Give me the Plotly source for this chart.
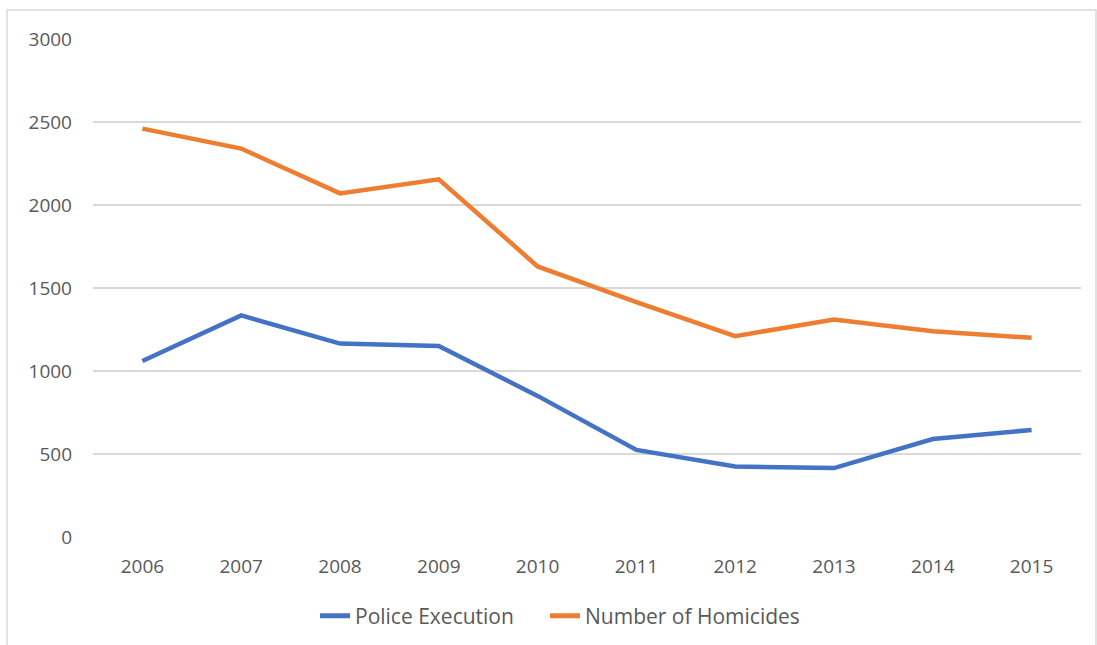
import plotly.graph_objects as go

years = ["2006", "2007", "2008", "2009", "2010", "2011", "2012", "2013", "2014", "2015"]
police_execution = [1060, 1335, 1165, 1150, 850, 525, 425, 415, 590, 645]
homicides = [2460, 2340, 2070, 2155, 1630, 1415, 1210, 1310, 1240, 1200]
y_ticks = [0, 500, 1000, 1500, 2000, 2500, 3000]

W, H = 1097, 645
L, R, T, B = 93, 16, 39, 108
pw, ph = W - L - R, H - T - B

def px(x):
    return (x - L) / pw

def py(y):
    return (H - B - y) / ph

fig = go.Figure()
fig.add_trace(go.Scatter(x=years, y=police_execution, mode="lines", name="Police Execution",
                         line=dict(color="#4472C4", width=4.5), legend="legend"))
fig.add_trace(go.Scatter(x=years, y=homicides, mode="lines", name="Number of Homicides",
                         line=dict(color="#ED7D31", width=4.5), legend="legend2"))

leg_common = dict(orientation="h", xanchor="left", yanchor="middle", y=py(616),
                  font=dict(size=21, color="#595959"), itemsizing="constant",
                  bgcolor="rgba(0,0,0,0)")

fig.update_layout(
    width=W, height=H,
    margin=dict(l=L, r=R, t=T, b=B, autoexpand=False),
    paper_bgcolor="white", plot_bgcolor="white",
    font=dict(family="Open Sans, Liberation Sans, sans-serif", size=19, color="#595959"),
    showlegend=True,
    legend=dict(x=px(315), **leg_common),
    legend2=dict(x=px(545), **leg_common),
    xaxis=dict(type="category", range=[-0.5, 9.5], showgrid=False, zeroline=False, showline=False,
               ticks="", ticklabelstandoff=16, tickfont=dict(size=19, color="#595959")),
    yaxis=dict(range=[0, 3000], tickvals=y_ticks, showgrid=True, gridcolor="#D9D9D9",
               gridwidth=1.5, zeroline=False, showline=False, ticks="",
               ticklabelstandoff=20, tickfont=dict(size=19, color="#595959")),
    shapes=[dict(type="rect", xref="paper", yref="paper",
                 x0=px(7), x1=px(1096), y0=py(660), y1=py(10),
                 line=dict(color="#D9D9D9", width=1.5), fillcolor="rgba(0,0,0,0)", layer="below")],
)

fig.write_html("out.html")
